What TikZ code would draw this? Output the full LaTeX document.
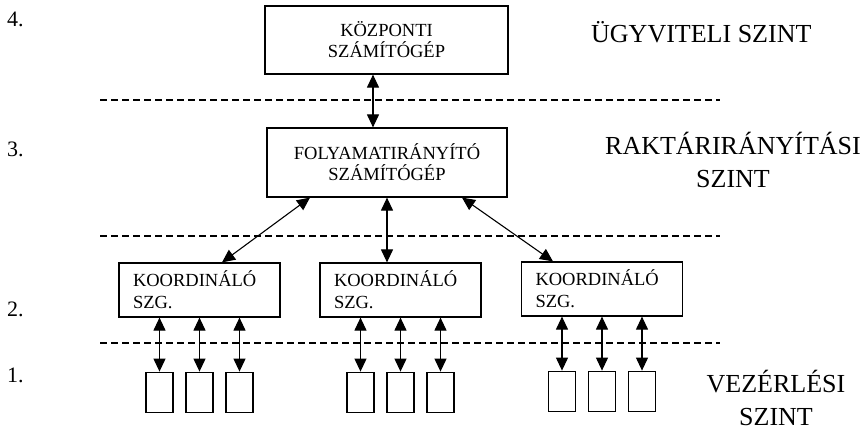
\documentclass[tikz,border=0pt]{standalone}
\usepackage{fontspec}
\setmainfont{Liberation Serif}
\usetikzlibrary{arrows.meta}

\begin{document}
\begin{tikzpicture}[x=1pt,y=-1pt,
    doboz/.style={draw,line width=1.2pt,inner sep=0pt,align=center,font=\fontsize{18.5}{21}\selectfont},
    koord/.style={draw,line width=1.2pt,minimum width=161pt,minimum height=54pt,inner xsep=14pt,text width=133pt,align=left,font=\fontsize{18.5}{22}\selectfont},
    kicsi/.style={draw,line width=1.2pt,minimum width=27pt,minimum height=40pt,inner sep=0pt},
    nyil/.style={{Triangle[length=13pt,width=12pt]}-{Triangle[length=13pt,width=12pt]},line width=1.1pt},
    szaggatott/.style={dash pattern=on 7pt off 4pt,line width=1.1pt},
    szint/.style={font=\fontsize{26}{33}\selectfont,inner sep=0pt},
    sorszam/.style={font=\fontsize{22}{22}\selectfont,inner sep=0pt,anchor=base west}]
  \useasboundingbox (0,0) rectangle (868,430);
  \foreach \y in {100,236,343}
    \draw[szaggatott] (100,\y) -- (720,\y);
  \node[doboz,minimum width=243pt,minimum height=68pt] (kozp) at (386.5,40) {KÖZPONTI\\SZÁMÍTÓGÉP};
  \node[doboz,minimum width=240pt,minimum height=69pt] (foly) at (387,162.5) {FOLYAMATIRÁNYÍTÓ\\SZÁMÍTÓGÉP};
  \node[koord] (k1) at (199.5,290) {KOORDINÁLÓ\\SZG.};
  \node[koord] (k2) at (400.5,290) {KOORDINÁLÓ\\SZG.};
  \node[koord] (k3) at (602,289) {KOORDINÁLÓ\\SZG.};
  \draw[nyil] ([xshift=-13.5pt]kozp.south) -- ([xshift=-13.5pt]kozp.south |- foly.north);
  \draw[nyil] ([xshift=-77pt]foly.south) -- ([xshift=22.5pt]k1.north);
  \draw[nyil] (foly.south) -- (foly.south |- k2.north);
  \draw[nyil] ([xshift=75pt]foly.south) -- ([xshift=-49pt]k3.north);
  \foreach \k in {1,2,3}
    \foreach \d/\n in {-40/a,0/b,40/c} {
      \node[kicsi,anchor=north] (k\k\n) at ([xshift=\d pt,yshift=-54pt]k\k.south) {};
      \draw[nyil] (k\k\n.north |- k\k.south) -- (k\k\n.north);
    }
  \node[sorszam] (n4) at (7,27) {4.};
  \node[sorszam] (n3) at (7,157) {3.};
  \node[sorszam] (n2) at (7,317) {2.};
  \node[sorszam] (n1) at (7,383) {1.};
  \node[szint,anchor=base west] (ugyv) at (591,43) {ÜGYVITELI SZINT};
  \node[szint,align=center,anchor=base] (rakt) at (733,188) {RAKTÁRIRÁNYÍTÁSI\\SZINT};
  \node[szint,align=center,anchor=base] (vez) at (776,425) {VEZÉRLÉSI\\SZINT};
\end{tikzpicture}
\end{document}
